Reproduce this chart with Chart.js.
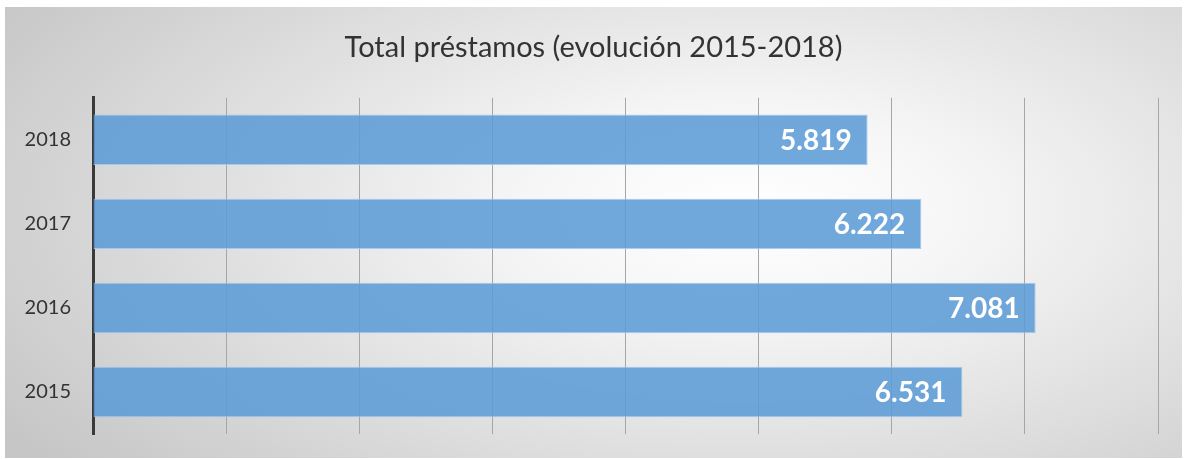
<!DOCTYPE html>
<html>
<head>
<meta charset="utf-8">
<script src="https://cdn.jsdelivr.net/npm/chart.js@4"></script>
<style>
    html, body { margin: 0; padding: 0; background: #fff; }
    #box {
        position: absolute; left: 5px; top: 7px; width: 1177px; height: 451px;
        background: radial-gradient(ellipse 75% 90% at 63% 45%, #ffffff 0%, #f6f6f6 25%, #c6c6c6 100%);
    }
</style>
</head>
<body>
<div id="box"><canvas id="loansChart" width="1177" height="451"></canvas></div>
<script>
// Data
const years = ['2018', '2017', '2016', '2015'];
const loans = [5819, 6222, 7081, 6531];
const axisMax = 8000;
const axisStep = 1000;

function fmtThousands(v) {
    return String(v).replace(/\B(?=(\d{3})+(?!\d))/g, '.');
}

// draws the value inside each bar, right aligned
const barValues = {
    id: 'barValues',
    afterDatasetsDraw(chart) {
        const ctx = chart.ctx;
        const meta = chart.getDatasetMeta(0);
        ctx.save();
        ctx.font = "bold 28px Lato, sans-serif";
        ctx.fillStyle = '#ffffff';
        ctx.textAlign = 'right';
        ctx.textBaseline = 'middle';
        meta.data.forEach((bar, i) => {
            ctx.fillText(fmtThousands(loans[i]), bar.x - 16, bar.y + 1);
        });
        ctx.restore();
    }
};

const ctxLoans = document.getElementById('loansChart').getContext('2d');
Chart.defaults.font.family = "Lato, sans-serif";

new Chart(ctxLoans, {
    type: 'bar',
    data: {
        labels: years,
        datasets: [{
            data: loans,
            backgroundColor: 'rgba(93, 156, 214, 0.88)',
            borderColor: 'rgba(160, 200, 236, 0.9)',
            borderWidth: 1,
            barPercentage: 0.6,
            categoryPercentage: 1
        }]
    },
    options: {
        indexAxis: 'y',
        responsive: false,
        animation: false,
        layout: { padding: 0 },
        plugins: {
            legend: { display: false },
            tooltip: { enabled: false },
            title: {
                display: true,
                text: 'Total préstamos (evolución 2015-2018)',
                color: '#333333',
                font: { size: 29, weight: 'normal' },
                padding: { top: 23, bottom: 33 }
            }
        },
        scales: {
            x: {
                min: 0,
                max: axisMax,
                ticks: { display: false, stepSize: axisStep },
                grid: { color: '#a6a6a6', lineWidth: 1, drawTicks: false },
                border: { display: false },
                afterFit(scale) { scale.height = 24; }
            },
            y: {
                grid: { display: false, drawTicks: false },
                border: { display: true, color: '#3a3a3a', width: 3 },
                ticks: { color: '#333333', font: { size: 20 }, padding: 22 },
                afterFit(scale) {
                    scale.width = 88;
                    scale.paddingTop = 0;
                    scale.paddingBottom = 0;
                }
            },
            // empty spacer on the right, so the title stays centred on the box
            yRight: {
                position: 'right',
                grid: { display: false, drawTicks: false },
                border: { display: false },
                ticks: { display: false },
                afterFit(scale) {
                    scale.width = 24;
                    scale.paddingTop = 0;
                    scale.paddingBottom = 0;
                }
            }
        }
    },
    plugins: [barValues]
});
</script>
</body>
</html>
